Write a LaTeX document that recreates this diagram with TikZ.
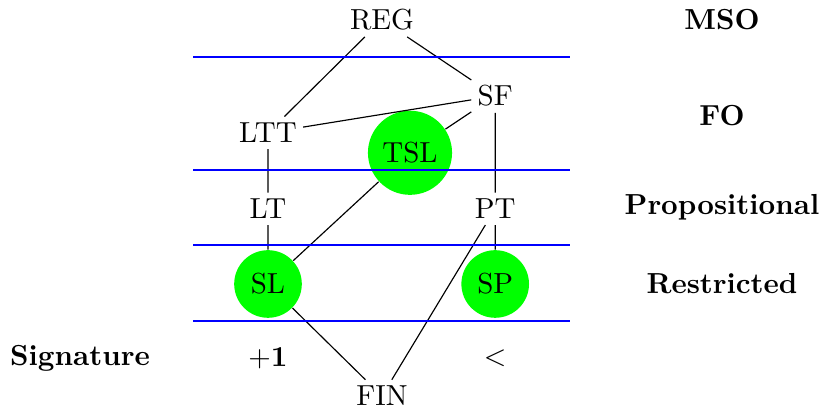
\documentclass[tikz,border=0pt]{standalone}
\usepackage{amsmath, amssymb}
\usepackage{tikz}
\usetikzlibrary{positioning}

\begin{document}
\begin{tikzpicture}[scale=0.97,
    cls/.style={inner sep=2pt},
    big/.style={circle, fill=green, inner sep=0pt},
    level/.style={font=\bfseries},
    edge/.style={draw, thin},
    sep/.style={draw=blue, semithick}]

\useasboundingbox (0,0) rectangle (10.2875,-5.1125);

% Classes
\node[cls] (reg) at (4.775,-0.25) {REG};
\node[cls] (sf) at (6.19,-1.2) {SF};
\node[cls] (ltt) at (3.35,-1.66) {LTT};
\node[big, minimum size=10.2mm] (tsl) at (5.125,-1.91) {TSL};
\node[cls] (lt) at (3.35,-2.61) {LT};
\node[cls] (pt) at (6.19,-2.61) {PT};
\node[big, minimum size=8.2mm] (sl) at (3.35,-3.55) {SL};
\node[big, minimum size=8.2mm] (sp) at (6.19,-3.55) {SP};
\node[cls] (fin) at (4.775,-4.95) {FIN};

% Levels on the right
\node[level] (mso) at (9.025,-0.25) {MSO};
\node[level] (fo) at (9.025,-1.45) {FO};
\node[level] (prop) at (9.025,-2.59) {Propositional};
\node[level] (restr) at (9.025,-3.55) {Restricted};

% Signatures
\node[level] (sig) at (1.0,-4.475) {Signature};
\node (succ) at (3.35,-4.475) {$+\mathbf{1}$};
\node (prec) at (6.19,-4.475) {$<$};

% Inclusions
\draw[edge] (reg) -- (ltt);
\draw[edge] (reg) -- (sf);
\draw[edge] (ltt) -- (sf);
\draw[edge] (sf) -- (tsl);
\draw[edge] (sf) -- (pt);
\draw[edge] (ltt) -- (lt);
\draw[edge] (lt) -- (sl);
\draw[edge] (tsl) -- (sl);
\draw[edge] (pt) -- (sp);
\draw[edge] (sl) -- (fin);
\draw[edge] (pt) -- (fin);

% Level separators
\foreach \y in {-0.7125,-2.125,-3.0625,-4.0125}
  \draw[sep] (2.4125,\y) -- (7.125,\y);

\end{tikzpicture}
\end{document}
